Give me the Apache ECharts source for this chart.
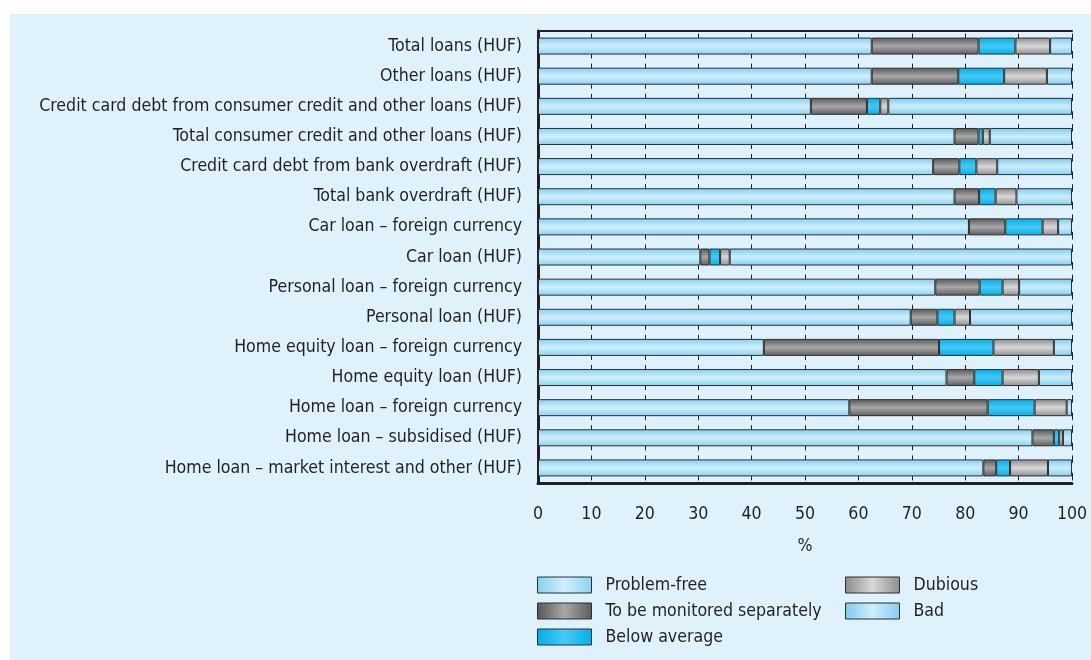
<!DOCTYPE html>
<html>
<head>
<meta charset="utf-8">
<script src="https://cdn.jsdelivr.net/npm/echarts@6/dist/echarts.min.js"></script>
<style>
  body { margin: 0; background: #ffffff; }
  .panel { position: absolute; left: 10px; top: 14px; width: 1081px; height: 646px; background: #dff2fc; }
  .main { position: absolute; left: 0; top: 0; width: 1091px; height: 660px; }
</style>
</head>
<body>
<div class="panel"></div>
<div class="main" id="main"></div>
<script>
// loan categories, top to bottom
const categories = [
  'Total loans (HUF)',
  'Other loans (HUF)',
  'Credit card debt from consumer credit and other loans (HUF)',
  'Total consumer credit and other loans (HUF)',
  'Credit card debt from bank overdraft (HUF)',
  'Total bank overdraft (HUF)',
  'Car loan \u2013 foreign currency',
  'Car loan (HUF)',
  'Personal loan \u2013 foreign currency',
  'Personal loan (HUF)',
  'Home equity loan \u2013 foreign currency',
  'Home equity loan (HUF)',
  'Home loan \u2013 foreign currency',
  'Home loan \u2013 subsidised (HUF)',
  'Home loan \u2013 market interest and other (HUF)'
]

// shares in %, same order as categories
const problemFree  = [62.5, 62.5, 51.1, 78.0, 74.0, 78.0, 80.7, 30.4, 74.4, 69.8, 42.3, 76.5, 58.3, 92.6, 83.4]
const monitored    = [20.0, 16.2, 10.5, 4.5, 4.9, 4.6, 6.8, 1.7, 8.3, 5.0, 32.8, 5.2, 25.9, 4.0, 2.4]
const belowAverage = [6.9, 8.6, 2.5, 0.8, 3.2, 3.1, 7.0, 2.0, 4.3, 3.2, 10.2, 5.3, 8.8, 1.0, 2.6]
const dubious      = [6.5, 8.0, 1.5, 1.3, 3.9, 3.9, 2.9, 1.8, 3.1, 2.9, 11.3, 6.8, 6.0, 0.7, 7.1]
const bad          = [4.1, 4.7, 34.4, 15.4, 14.0, 10.4, 2.6, 64.1, 9.9, 19.1, 3.4, 6.2, 1.0, 1.7, 4.5]

const xTicks = [0, 10, 20, 30, 40, 50, 60, 70, 80, 90, 100]

const FONT = '"DejaVu Sans Condensed", "Liberation Sans", sans-serif'
const FSIZE = 17.6
const INK = '#231f20'

const gridTop = 31, gridHeight = 452
const band = gridHeight / categories.length

// gradient stops: [edge, middle, edge]
const shades = {
  'Problem-free': ['#84cff1', '#d0effc', '#8ad2f2'],
  'To be monitored separately': ['#575757', '#a8a8a8', '#5c5c5c'],
  'Below average': ['#00ade8', '#48c9f3', '#00b0ea'],
  'Dubious': ['#8a8a8a', '#d8d8d8', '#8e8e8e'],
  'Bad': ['#7ccbf0', '#cdeefb', '#82cef1']
}

function grad(name, horizontal) {
  const s = shades[name]
  return new echarts.graphic.LinearGradient(0, 0, horizontal ? 1 : 0, horizontal ? 0 : 1, [
    { offset: 0, color: s[0] },
    { offset: 0.5, color: s[1] },
    { offset: 1, color: s[2] }
  ])
}

function barSeries(name, values) {
  return {
    name: name,
    type: 'bar',
    stack: 'all',
    barWidth: 17,
    data: values,
    itemStyle: { color: grad(name, false), borderColor: '#2b2f33', borderWidth: 1 },
    emphasis: { disabled: true }
  }
}

function legendItem(name) {
  return { name: name, itemStyle: { color: grad(name, true), borderColor: '#2b2f33', borderWidth: 1 } }
}

const legendBase = {
  orient: 'vertical',
  top: 576,
  padding: 0,
  icon: 'rect',
  itemWidth: 54,
  itemHeight: 16,
  itemGap: 8,
  selectedMode: false,
  textStyle: { fontFamily: FONT, fontSize: FSIZE, color: INK, padding: [0, 0, 0, 9] }
}

const chart = echarts.init(document.getElementById('main'))

const option = {
  animation: false,
  grid: { left: 538, top: gridTop, width: 534, height: gridHeight, outerBoundsMode: 'none', containLabel: false },
  legend: [
    Object.assign({}, legendBase, {
      left: 537,
      data: ['Problem-free', 'To be monitored separately', 'Below average'].map(legendItem)
    }),
    Object.assign({}, legendBase, {
      left: 845,
      data: ['Dubious', 'Bad'].map(legendItem)
    })
  ],
  xAxis: [{
    type: 'value',
    min: 0,
    max: 100,
    interval: 10,
    name: '%',
    nameLocation: 'middle',
    nameGap: 54,
    nameTextStyle: { fontFamily: FONT, fontSize: FSIZE, color: INK },
    axisLine: { show: true, lineStyle: { color: INK, width: 3 } },
    axisTick: { show: false },
    axisLabel: {
      fontFamily: FONT, fontSize: FSIZE, color: INK, margin: 22,
      formatter: v => xTicks.indexOf(v) >= 0 ? String(v) : ''
    },
    // short tick marks left in the gaps between the bars
    splitLine: {
      show: true,
      lineStyle: {
        color: INK,
        width: 1,
        type: [7.5, 10, 7.6, band - 25.1],
        dashOffset: band - 2.5
      }
    }
  }, {
    type: 'value',
    position: 'top',
    min: 0,
    max: 100,
    axisLine: { show: true, lineStyle: { color: INK, width: 2 } },
    axisTick: { show: false },
    axisLabel: { show: false },
    splitLine: { show: false }
  }],
  yAxis: {
    type: 'category',
    inverse: true,
    data: categories,
    axisLine: { show: true, lineStyle: { color: INK, width: 3 } },
    axisTick: { show: false },
    axisLabel: { fontFamily: FONT, fontSize: FSIZE, color: INK, margin: 16 }
  },
  series: [
    barSeries('Problem-free', problemFree),
    barSeries('To be monitored separately', monitored),
    barSeries('Below average', belowAverage),
    barSeries('Dubious', dubious),
    barSeries('Bad', bad)
  ]
}

chart.setOption(option)
</script>
</body>
</html>
